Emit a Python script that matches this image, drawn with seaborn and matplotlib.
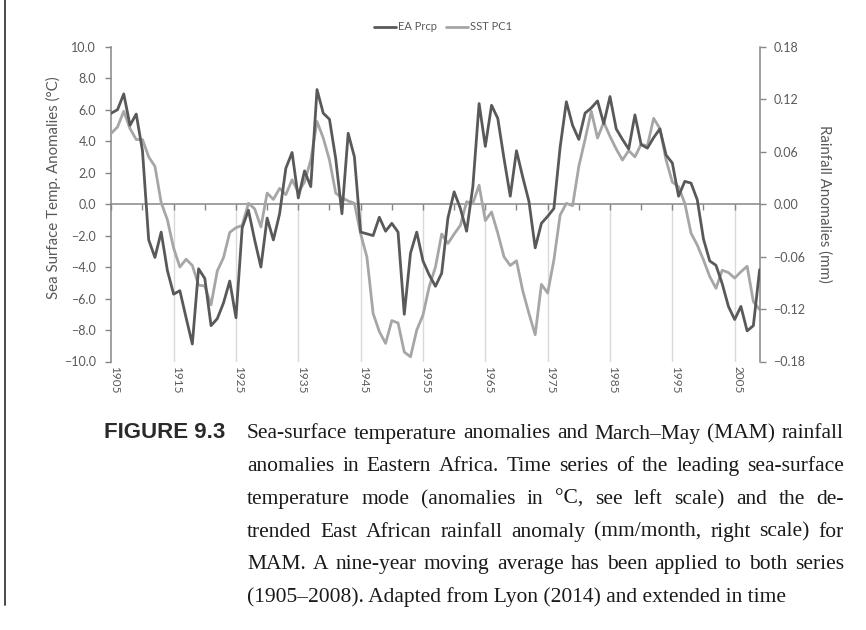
import matplotlib
matplotlib.use("Agg")
import matplotlib.pyplot as plt
import matplotlib.transforms as mtransforms
from matplotlib.lines import Line2D
import pandas as pd
import seaborn as sns

# ---- data (nine-year moving averages) ----
years = list(range(1905, 2010))

# leading SST mode, °C (left scale)
sst_pc1 = [
    4.5, 4.9, 5.9, 4.8, 4.1,                                          # 1905-1909
    4.1, 3.0, 2.4, 0.1, -1.0, -2.8, -4.0, -3.5, -3.9, -5.15,           # 1910s
    -5.2, -6.4, -4.25, -3.4, -1.8, -1.5, -1.35, 0.05, -0.3, -1.45,     # 1920s
    0.7, 0.3, 1.0, 0.6, 1.55, 0.75, 1.4, 2.8, 5.25, 4.2,               # 1930s
    2.8, 0.7, 0.4, 0.2, 0.05, -1.9, -3.35, -6.95, -8.1, -8.85,         # 1940s
    -7.4, -7.55, -9.4, -9.7, -8.0, -7.05, -5.25, -4.0, -1.9, -2.5,     # 1950s
    -1.9, -1.35, 0.15, 0.05, 1.2, -1.05, -0.5, -1.85, -3.35, -3.9,     # 1960s
    -3.6, -5.5, -6.95, -8.3, -5.1, -5.65, -3.55, -0.7, 0.05, -0.1,     # 1970s
    2.4, 4.1, 5.9, 4.2, 5.2, 4.3, 3.5, 2.8, 3.4, 3.0,                  # 1980s
    3.8, 3.7, 5.45, 4.8, 2.8, 1.4, 1.1, 0.05, -1.85, -2.6,             # 1990s
    -3.55, -4.6, -5.35, -4.2, -4.35, -4.7, -4.3, -3.95, -6.2, -6.7,    # 2000s
]

# detrended East African MAM rainfall anomaly, mm (right scale)
ea_prcp = [
    0.104, 0.108, 0.126, 0.090, 0.103,                                          # 1905-1909
    0.061, -0.041, -0.061, -0.032, -0.076, -0.103, -0.099, -0.130, -0.160, -0.074,  # 1910s
    -0.085, -0.139, -0.131, -0.113, -0.088, -0.130, -0.027, -0.007, -0.041, -0.072, # 1920s
    -0.016, -0.041, -0.011, 0.041, 0.059, 0.007, 0.038, 0.020, 0.131, 0.104,       # 1930s
    0.097, 0.052, -0.011, 0.081, 0.054, -0.032, -0.034, -0.036, -0.015, -0.031,    # 1940s
    -0.022, -0.032, -0.126, -0.056, -0.032, -0.065, -0.081, -0.094, -0.079, -0.016, # 1950s
    0.014, -0.005, -0.031, 0.020, 0.115, 0.066, 0.113, 0.098, 0.052, 0.009,        # 1960s
    0.061, 0.031, 0.003, -0.050, -0.022, -0.014, -0.005, 0.065, 0.117, 0.090,      # 1970s
    0.074, 0.104, 0.110, 0.118, 0.092, 0.123, 0.086, 0.074, 0.063, 0.102,          # 1980s
    0.068, 0.064, 0.076, 0.086, 0.056, 0.047, 0.009, 0.026, 0.024, 0.005,          # 1990s
    -0.040, -0.065, -0.070, -0.091, -0.117, -0.132, -0.117, -0.145, -0.139, -0.075, # 2000s
]

label_years = list(range(1905, 2006, 10))
grid_years = list(range(1915, 2006, 10))
minor_years = list(range(1905, 2010, 5))
left_ticks = [-10, -8, -6, -4, -2, 0, 2, 4, 6, 8, 10]
right_ticks = [-0.18, -0.12, -0.06, 0.0, 0.06, 0.12, 0.18]

series_names = ["EA Prcp", "SST PC1"]
left_title = "Sea Surface Temp. Anomalies (°C)"
right_title = "Rainfall Anomalies (mm)"

caption_head = "FIGURE 9.3"
caption_lines = [
    "Sea-surface temperature anomalies and March\u2013May (MAM) rainfall",
    "anomalies in Eastern Africa. Time series of the leading sea-surface",
    "temperature mode (anomalies in °C, see left scale) and the de-",
    "trended East African rainfall anomaly (mm/month, right scale) for",
    "MAM. A nine-year moving average has been applied to both series",
    "(1905\u20132008). Adapted from Lyon (2014) and extended in time",
]

# ---- style ----
sns.set_theme(style="white")
plt.rcParams["font.family"] = ["Lato", "DejaVu Sans"]

DARK = "#595959"
LIGHT = "#a6a6a6"
AXC = "#868686"
TXT = "#595959"
GRID = "#d9d9d9"

W, H = 866, 630
fig = plt.figure(figsize=(W / 100, H / 100), dpi=100)
fig.patch.set_facecolor("white")

px_l, px_r, px_t, px_b = 111.3, 759.6, 46.7, 361.5
ax = fig.add_axes([px_l / W, 1 - px_b / H, (px_r - px_l) / W, (px_b - px_t) / H])
ax2 = ax.twinx()

df = pd.DataFrame({"year": years, "sst": sst_pc1, "prcp": ea_prcp})

# vertical guides below the zero line
ax.vlines(grid_years, -10, 0, color=GRID, lw=1.0, zorder=0)

sns.lineplot(data=df, x="year", y="sst", ax=ax, color=LIGHT, lw=2.0,
             estimator=None, legend=False, zorder=3)
sns.lineplot(data=df, x="year", y="prcp", ax=ax2, color=DARK, lw=2.0,
             estimator=None, legend=False, zorder=3)

ax.set_xlim(1905, 2009)
ax.set_ylim(-10, 10)
ax2.set_ylim(-0.18, 0.18)
ax.set_xlabel("")
ax.set_ylabel("")
ax2.set_ylabel("")

# spines
for s in ("top", "right"):
    ax.spines[s].set_visible(False)
for s in ("top", "bottom", "left"):
    ax2.spines[s].set_visible(False)
ax.spines["bottom"].set_position(("data", 0))
for sp in (ax.spines["bottom"], ax.spines["left"], ax2.spines["right"]):
    sp.set_color(AXC)
    sp.set_linewidth(1.1)

# x ticks on the zero line
ax.set_xticks(minor_years)
ax.tick_params(axis="x", bottom=True, direction="out", length=4, width=1,
               color=AXC, labelbottom=False)

# left axis
ax.set_yticks(left_ticks)
ax.set_yticklabels([f"{v:.1f}".replace("-", "\u2212") for v in left_ticks])
ax.tick_params(axis="y", left=True, direction="out", length=4, width=1,
               color=AXC, labelcolor=TXT, labelsize=9, pad=7)

# right axis
ax2.set_yticks(right_ticks)
ax2.set_yticklabels([f"{v:.2f}".replace("-", "\u2212") for v in right_ticks])
ax2.tick_params(axis="y", right=True, left=False, direction="out", length=4,
                width=1, color=AXC, labelcolor=TXT, labelsize=9, pad=6)

# year labels along the bottom edge
off = mtransforms.ScaledTranslation(3 / 100, 0, fig.dpi_scale_trans)
trans = mtransforms.blended_transform_factory(ax.transData, ax.transAxes) + off
for y in label_years:
    ax.text(y, -0.015, str(y), transform=trans, rotation=-90, ha="center",
            va="top", fontsize=8.5, color=TXT)

# axis titles
fig.text(53 / W, 1 - 188 / H, left_title, rotation=90, ha="center", va="center",
         fontsize=10.8, color=TXT)
fig.text(824 / W, 1 - 204 / H, right_title, rotation=-90, ha="center",
         va="center", fontsize=10.8, color=TXT)

# legend
handles = [Line2D([], [], color=DARK, lw=2.0), Line2D([], [], color=LIGHT, lw=2.0)]
fig.legend(handles, series_names, loc="center", bbox_to_anchor=(443 / W, 1 - 27 / H),
           ncol=2, frameon=False, fontsize=8, handlelength=2.0, handletextpad=0.15,
           columnspacing=0.8, labelcolor=TXT)

# page rule on the left
fig.add_artist(Line2D([5 / W, 5 / W], [1, 1 - 605 / H], transform=fig.transFigure,
                      color="#3a3a3a", lw=1.3))

# caption
fig.text(104 / W, 1 - 433 / H, caption_head, ha="left", va="center",
         fontsize=16, fontweight="bold", color="#2a2a2a",
         family=["Liberation Sans Narrow", "Liberation Sans", "DejaVu Sans"])

renderer = fig.canvas.get_renderer()
cap_kw = dict(fontsize=15.5, color="#1a1a1a", family=["Liberation Serif", "DejaVu Serif"],
              va="center", ha="left")
x0, x1 = 247 / W, 844 / W
for i, line in enumerate(caption_lines):
    yy = 1 - (434 + 32.7 * i) / H
    if i == len(caption_lines) - 1:
        fig.text(x0, yy, line, **cap_kw)
        continue
    words = line.split(" ")
    objs = [fig.text(0, yy, w, **cap_kw) for w in words]
    widths = [o.get_window_extent(renderer).width / W for o in objs]
    gap = (x1 - x0 - sum(widths)) / (len(words) - 1)
    x = x0
    for o, wdt in zip(objs, widths):
        o.set_x(x)
        x += wdt + gap

fig.savefig("out.png", dpi=100, facecolor="white")
